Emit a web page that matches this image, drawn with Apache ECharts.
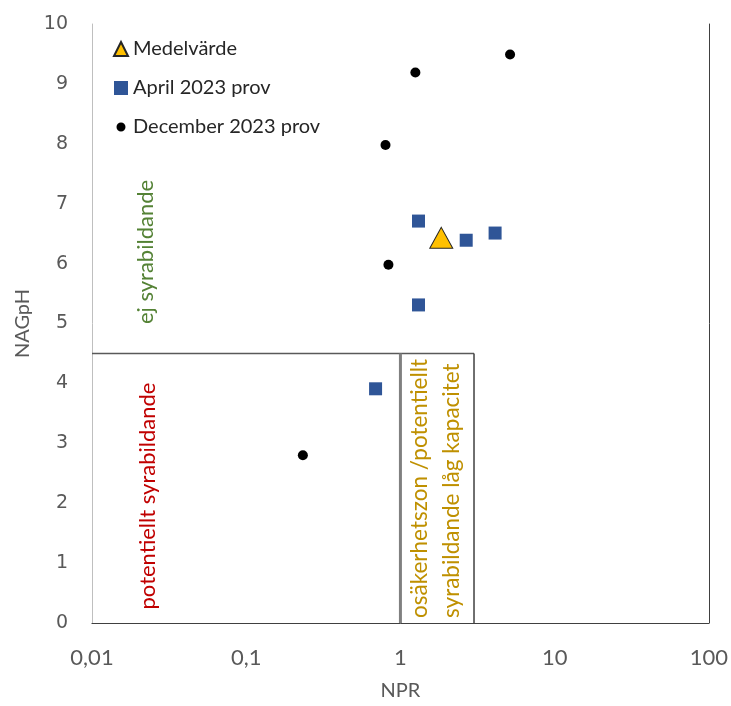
<!DOCTYPE html>
<html>
<head>
<meta charset="utf-8">
<script src="https://cdn.jsdelivr.net/npm/echarts@6/dist/echarts.min.js"></script>
<style>html,body{margin:0;padding:0;background:#fff;}#c{width:731px;height:706px;}</style>
</head>
<body>
<div id="c"></div>
<script>
// ---- data ----
const seriesNames = ['Medelvärde', 'April 2023 prov', 'December 2023 prov'];
const medelNPR = [1.84];
const medelNAG = [6.43];
const aprilNPR = [1.31, 1.31, 2.67, 4.11, 0.69];
const aprilNAG = [6.71, 5.31, 6.39, 6.51, 3.91];
const decNPR = [5.14, 1.25, 0.80, 0.836, 0.233];
const decNAG = [9.49, 9.19, 7.98, 5.98, 2.80];
const xTickLabels = ['0,01', '0,1', '1', '10', '100'];
const yTickLabels = ['0','1','2','3','4','5','6','7','8','9','10'];
const zoneH = [[0.01, 4.5], [3, 4.5]];
const zoneV1 = [[1, 0], [1, 4.5]];
const zoneV3 = [[3, 0], [3, 4.5]];
const zoneTexts = ['ej syrabildande', 'potentiellt syrabildande', 'osäkerhetszon /potentiellt', 'syrabildande låg kapacitet'];

const pairs = (xs, ys) => xs.map((x, i) => [x, ys[i]]);
const chart = echarts.init(document.getElementById('c'));
const labelFont = 'Lato';
const smallCircle = 'path://M0,0L0.01,0L0,0.01ZM14,14L13.99,14L14,13.99ZM2.5,7A4.5,4.5,0,1,0,11.5,7A4.5,4.5,0,1,0,2.5,7Z';
chart.setOption({
  animation: false,
  grid: { left: 92, right: 20, top: 24, bottom: 72 },
  legend: {
    orient: 'vertical', left: 108, top: 34, itemWidth: 14, itemHeight: 14, itemGap: 19,
    textStyle: { fontFamily: labelFont, fontSize: 20, color: '#262626' },
    data: [
      { name: seriesNames[0] },
      { name: seriesNames[1] },
      { name: seriesNames[2], icon: smallCircle }
    ]
  },
  xAxis: [{
    type: 'log', logBase: 10, min: 0.01, max: 100,
    name: 'NPR', nameLocation: 'middle', nameGap: 58,
    nameTextStyle: { fontFamily: labelFont, fontSize: 20, color: '#595959' },
    axisLine: { lineStyle: { color: '#bfbfbf', width: 1 } },
    axisTick: { show: false }, splitLine: { show: false },
    axisLabel: { margin: 24, fontFamily: labelFont, fontSize: 22, color: '#595959',
      formatter: v => xTickLabels[Math.round(Math.log10(v)) + 2] }
  }, {
    type: 'log', logBase: 10, min: 0.01, max: 100, position: 'top',
    axisLine: { lineStyle: { color: '#404040', width: 1 } },
    axisTick: { show: false }, splitLine: { show: false }, axisLabel: { show: false }
  }],
  yAxis: [{
    type: 'value', min: 0, max: 10, interval: 1,
    name: 'NAGpH', nameLocation: 'middle', nameGap: 58,
    nameTextStyle: { fontFamily: labelFont, fontSize: 20, color: '#595959' },
    axisLine: { show: true, lineStyle: { color: '#bfbfbf', width: 1 } },
    axisTick: { show: false }, splitLine: { show: false },
    axisLabel: { margin: 24, fontFamily: 'DejaVu Sans', fontSize: 19, color: '#595959',
      formatter: v => yTickLabels[Math.round(v)] }
  }, {
    type: 'value', min: 0, max: 10, position: 'right',
    axisLine: { show: true, lineStyle: { color: '#404040', width: 1 } },
    axisTick: { show: false }, splitLine: { show: false }, axisLabel: { show: false }
  }],
  series: [
    { type: 'line', data: zoneH, symbol: 'none', silent: true, lineStyle: { color: '#595959', width: 1.5 }, z: 1 },
    { type: 'line', data: zoneV1, symbol: 'none', silent: true, lineStyle: { color: '#808080', width: 3 }, z: 1 },
    { type: 'line', data: zoneV3, symbol: 'none', silent: true, lineStyle: { color: '#404040', width: 1.5 }, z: 1 },
    { name: seriesNames[2], type: 'scatter', data: pairs(decNPR, decNAG), symbol: 'circle', symbolSize: 10,
      itemStyle: { color: '#000000', opacity: 1 }, z: 3 },
    { name: seriesNames[1], type: 'scatter', data: pairs(aprilNPR, aprilNAG), symbol: 'rect', symbolSize: 13,
      itemStyle: { color: '#2f5597', opacity: 1 }, z: 3 },
    { name: seriesNames[0], type: 'scatter', data: pairs(medelNPR, medelNAG), symbol: 'triangle', symbolSize: [23, 21],
      itemStyle: { color: '#ffc000', borderColor: '#262626', borderWidth: 1, opacity: 1 }, z: 4 }
  ],
  graphic: [
    { type: 'text', x: 146, y: 252, rotation: Math.PI / 2,
      style: { text: zoneTexts[0], fontFamily: labelFont, fontSize: 22, fill: '#548235', align: 'center', verticalAlign: 'middle' } },
    { type: 'text', x: 148, y: 496, rotation: Math.PI / 2,
      style: { text: zoneTexts[1], fontFamily: labelFont, fontSize: 22, fill: '#c00000', align: 'center', verticalAlign: 'middle' } },
    { type: 'text', x: 420, y: 618, rotation: Math.PI / 2,
      style: { text: zoneTexts[2], fontFamily: labelFont, fontSize: 22.5, fill: '#bf9000', align: 'left', verticalAlign: 'middle' } },
    { type: 'text', x: 452, y: 618, rotation: Math.PI / 2,
      style: { text: zoneTexts[3], fontFamily: labelFont, fontSize: 22.5, fill: '#bf9000', align: 'left', verticalAlign: 'middle' } }
  ]
});
</script>
</body>
</html>
